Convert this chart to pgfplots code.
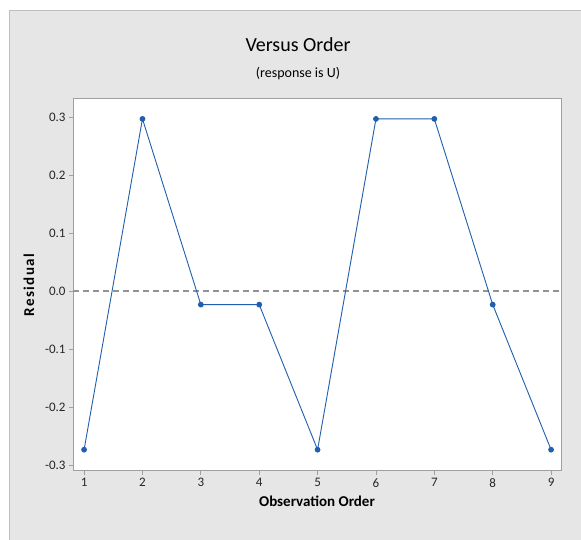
\documentclass[border=0pt]{standalone}
\usepackage{pgfplots}
\pgfplotsset{compat=1.18}
\usepackage{fontspec}
\setmainfont{Carlito}
\definecolor{bg}{HTML}{E6E6E6}
\definecolor{ln}{HTML}{1F5FAE}
\definecolor{ax}{HTML}{A0A0A0}
\begin{document}
\begin{tikzpicture}[x=1pt,y=1pt]
\useasboundingbox (0,0) rectangle (581,540);
\fill[white] (0,0) rectangle (581,540);
\fill[bg] (9,0) rectangle (581,530);
\draw[gray!50] (9,0) -- (9,530) -- (581,530);
\node at (298,495) {\fontsize{20}{23}\selectfont Versus Order};
\node at (298,466) {\fontsize{14}{16}\selectfont (response is U)};
\begin{axis}[
  at={(73pt,69pt)}, anchor=south west,
  scale only axis, width=488pt, height=372pt,
  xmin=0.81, xmax=9.17, ymin=-0.31, ymax=0.331,
  axis background/.style={fill=white},
  axis line style={ax, line width=1pt},
  axis x line*=bottom, axis y line*=left,
  every outer x axis line/.append style={-},
  every outer y axis line/.append style={-},
  xtick={1,2,...,9},
  ytick={-0.3,-0.2,-0.1,0,0.1,0.2,0.3},
  yticklabels={-0.3,-0.2,-0.1,0.0,0.1,0.2,0.3},
  tick align=outside, major tick length=4pt,
  tick style={ax, line width=0.8pt},
  ticklabel style={font=\fontsize{13}{15}\selectfont, text=black!85},
  /pgf/number format/assume math mode=true,
  xlabel={\fontsize{15}{17}\selectfont\bfseries Observation Order},
  ylabel={\fontsize{15}{17}\selectfont\bfseries\addfontfeature{LetterSpace=10}Residual},
  xlabel style={yshift=-2pt},
  ylabel style={yshift=4pt},
  clip=false,
]
\draw[ax, line width=1pt] (rel axis cs:0,1) -- (rel axis cs:1,1) -- (rel axis cs:1,0);
\addplot[gray!85, dashed, dash pattern=on 6pt off 4pt, line width=1.2pt, forget plot] coordinates {(0.81,0) (9.17,0)};
\addplot[ln, line width=0.9pt, mark=*, mark size=2.4pt, mark options={fill=ln, draw=ln}] coordinates {
(1,-0.2733) (2,0.2967) (3,-0.0233) (4,-0.0233) (5,-0.2733) (6,0.2967) (7,0.2967) (8,-0.0233) (9,-0.2733)
};
\end{axis}
\end{tikzpicture}
\end{document}
